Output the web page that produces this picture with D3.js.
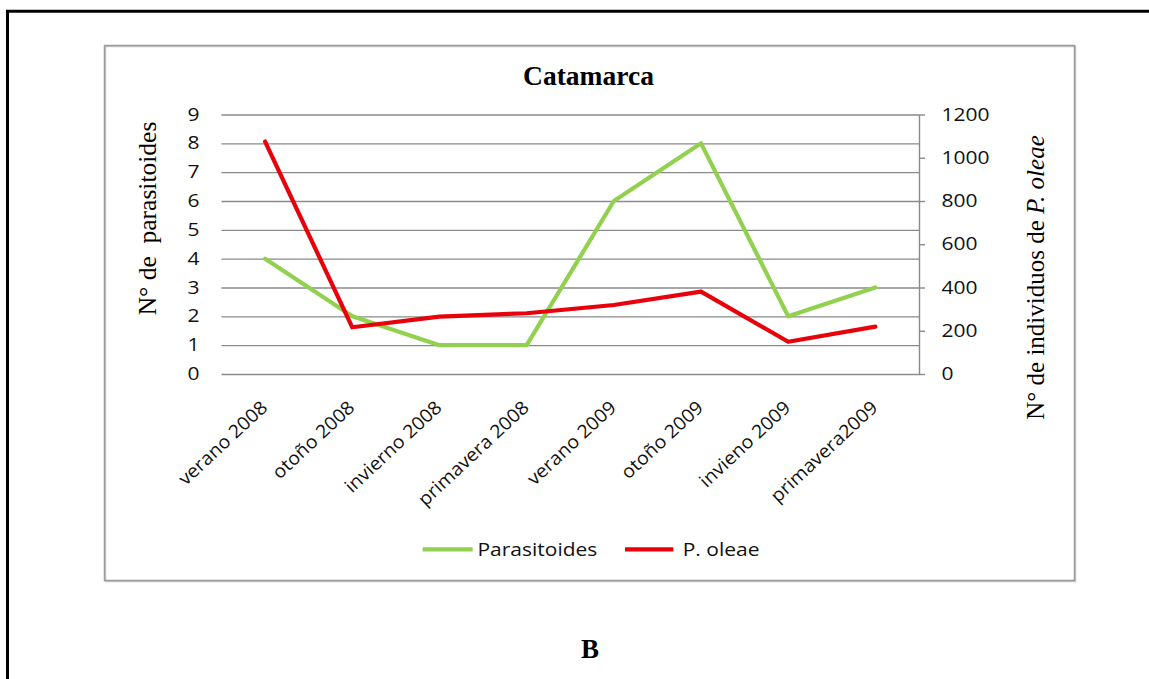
<!DOCTYPE html>
<html>
<head>
<meta charset="utf-8">
<script src="https://cdn.jsdelivr.net/npm/d3@7"></script>
<style>
  html, body { margin: 0; padding: 0; background: #fff; }
  svg { display: block; }
</style>
</head>
<body>
<svg id="chart" width="1149" height="679"></svg>
<script>
// ---- data ----
const categories = ["verano 2008", "otoño 2008", "invierno 2008", "primavera 2008",
                    "verano 2009", "otoño 2009", "invieno 2009", "primavera2009"];
const parasitoides = [4, 2, 1, 1, 6, 8, 2, 3];
const pOleae = [1075, 216, 265, 281, 319, 381, 149, 219];
const leftTicks = [0, 1, 2, 3, 4, 5, 6, 7, 8, 9];
const rightTicks = [0, 200, 400, 600, 800, 1000, 1200];
const chartTitle = "Catamarca";
const leftTitle = "N° de  parasitoides";
const rightTitlePlain = "N° de individuos de ";
const rightTitleItalic = "P. oleae";
const seriesNames = ["Parasitoides", "P. oleae"];
const panelLabel = "B";

// ---- layout / style ----
const W = 1149, H = 679;
const plotL = 221.5, plotR = 919, plotT = 114.5, plotB = 374;
const SANS = "'Open Sans', 'Noto Sans', sans-serif";
const SERIF = "'Liberation Serif', 'Times New Roman', serif";
const K = 1.2; // horizontal stretch for sans text
const green = "#92d050", red = "#e8000b";

const svg = d3.select("#chart");
svg.append("rect").attr("width", W).attr("height", H).attr("fill", "#fff");

// outer frame (top + left)
svg.append("line").attr("x1", 6).attr("x2", W).attr("y1", 11.3).attr("y2", 11.3)
  .attr("stroke", "#000").attr("stroke-width", 3);
svg.append("line").attr("x1", 7.5).attr("x2", 7.5).attr("y1", 10).attr("y2", H)
  .attr("stroke", "#000").attr("stroke-width", 3);

// inner chart frame with slight shadow
svg.append("rect").attr("x", 105.5).attr("y", 46.5).attr("width", 970).attr("height", 535)
  .attr("fill", "none").attr("stroke", "#c8c8c8").attr("stroke-width", 1.5);
svg.append("rect").attr("x", 104.5).attr("y", 45.5).attr("width", 970).attr("height", 535)
  .attr("fill", "none").attr("stroke", "#9a9a9a").attr("stroke-width", 1.5);

// scales
const x = d3.scalePoint().domain(categories).range([plotL, plotR]).padding(0.5);
const yL = d3.scaleLinear().domain([0, 9]).range([plotB, plotT]);
const yR = d3.scaleLinear().domain([0, 1200]).range([plotB, plotT]);

// gridlines
const grid = svg.append("g").attr("transform", `translate(${plotL},0)`)
  .call(d3.axisLeft(yL).tickValues(leftTicks).tickSize(-(plotR - plotL)).tickFormat(""));
grid.select(".domain").remove();
grid.selectAll("line").attr("stroke", "#8a8a8a").attr("stroke-width", 1.4);

// left axis labels
const gL = svg.append("g").attr("transform", `translate(199.5,0)`)
  .call(d3.axisLeft(yL).tickValues(leftTicks).tickFormat(d3.format("d")).tickSize(0).tickPadding(0));
gL.select(".domain").remove();
gL.selectAll("text").attr("x", 0).attr("dy", "0.32em")
  .attr("transform", `scale(${K},1)`)
  .attr("font-family", SANS).attr("font-size", 17.5).attr("fill", "#111");

// right axis
const gR = svg.append("g").attr("transform", `translate(${plotR},0)`)
  .call(d3.axisRight(yR).tickValues(rightTicks).tickFormat(d3.format("d"))
    .tickSize(6).tickSizeOuter(0).tickPadding(0));
gR.select(".domain").attr("stroke", "#8a8a8a").attr("stroke-width", 1.4);
gR.selectAll(".tick line").attr("stroke", "#8a8a8a").attr("stroke-width", 1.4);
gR.selectAll("text").attr("x", 0).attr("dy", "0.32em")
  .attr("transform", `translate(22.5,0) scale(${K},1)`)
  .attr("font-family", SANS).attr("font-size", 17.5).attr("fill", "#111");

// x axis labels
const gX = svg.append("g").attr("transform", `translate(0,${plotB})`)
  .call(d3.axisBottom(x).tickSize(0).tickPadding(0));
gX.select(".domain").remove();
gX.selectAll("text").attr("y", 0).attr("dy", null).attr("text-anchor", "end")
  .attr("transform", `translate(3,35) rotate(-43) scale(1.06,1)`)
  .attr("font-family", SANS).attr("font-size", 18.5).attr("fill", "#111");

// lines
const lineL = d3.line().x((d, i) => x(categories[i])).y(d => yL(d));
const lineR = d3.line().x((d, i) => x(categories[i])).y(d => yR(d));
svg.append("path").datum(parasitoides).attr("d", lineL)
  .attr("fill", "none").attr("stroke", green).attr("stroke-width", 4.2)
  .attr("stroke-linejoin", "round").attr("stroke-linecap", "round");
svg.append("path").datum(pOleae).attr("d", lineR)
  .attr("fill", "none").attr("stroke", red).attr("stroke-width", 4.2)
  .attr("stroke-linejoin", "round").attr("stroke-linecap", "round");

// title
svg.append("text").attr("x", 588.5).attr("y", 85).attr("text-anchor", "middle")
  .attr("font-family", SERIF).attr("font-weight", "bold").attr("font-size", 27.5)
  .text(chartTitle);

// left axis title
svg.append("text").attr("transform", "translate(156,218.5) rotate(-90)")
  .attr("text-anchor", "middle").style("white-space", "pre")
  .attr("font-family", SERIF).attr("font-size", 25.5).text(leftTitle);

// right axis title
const rt = svg.append("text").attr("transform", "translate(1044,277.5) rotate(-90)")
  .attr("text-anchor", "middle").style("white-space", "pre")
  .attr("font-family", SERIF).attr("font-size", 25);
rt.append("tspan").text(rightTitlePlain);
rt.append("tspan").attr("font-style", "italic").text(rightTitleItalic);

// legend
const legend = [
  { name: seriesNames[0], color: green, x1: 422.7, x2: 472.7, tx: 477.5 },
  { name: seriesNames[1], color: red, x1: 625, x2: 673.3, tx: 682.7 }
];
const lg = svg.append("g");
legend.forEach(d => {
  lg.append("line").attr("x1", d.x1).attr("x2", d.x2).attr("y1", 549.3).attr("y2", 549.3)
    .attr("stroke", d.color).attr("stroke-width", 4.2);
  lg.append("text").attr("transform", `translate(${d.tx},556) scale(${K},1)`)
    .attr("font-family", SANS).attr("font-size", 17.5).attr("fill", "#111").text(d.name);
});

// panel label
svg.append("text").attr("x", 590).attr("y", 658).attr("text-anchor", "middle")
  .attr("font-family", SERIF).attr("font-weight", "bold").attr("font-size", 27)
  .text(panelLabel);
</script>
</body>
</html>
